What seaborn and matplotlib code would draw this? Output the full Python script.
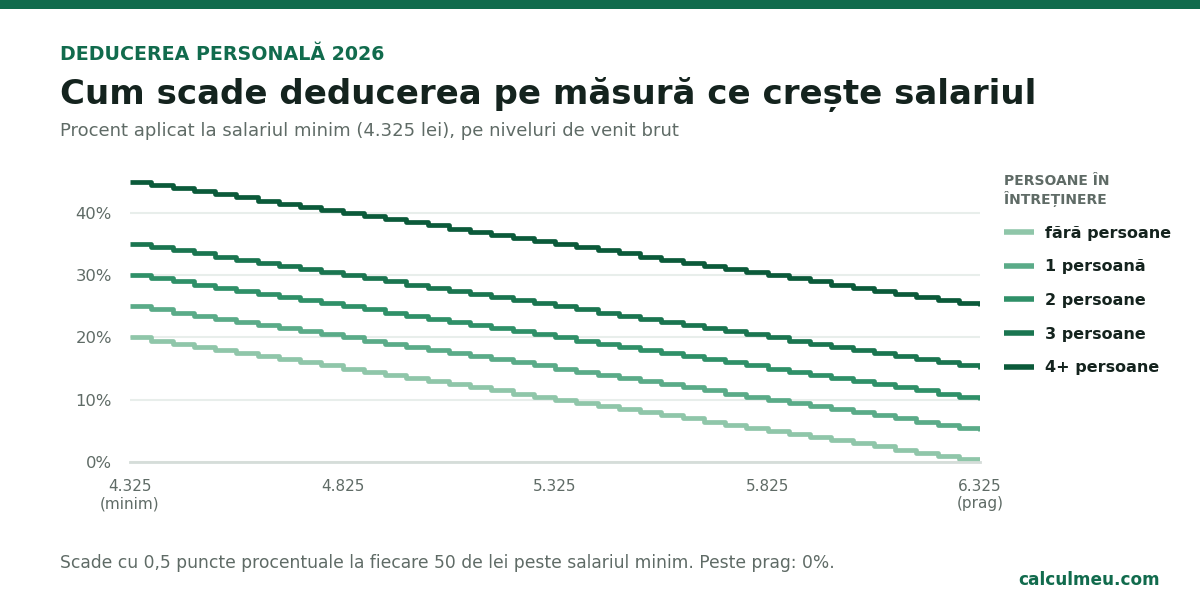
import matplotlib
matplotlib.use("Agg")
import matplotlib.pyplot as plt
from matplotlib.patches import Rectangle
from matplotlib.ticker import FuncFormatter
import seaborn as sns
import pandas as pd

# Data (salariu brut in lei, procent aplicat la salariul minim)
salary = [4325, 4375, 4425, 4475, 4525, 4575, 4625, 4675, 4725, 4775,
          4825, 4875, 4925, 4975, 5025, 5075, 5125, 5175, 5225, 5275,
          5325, 5375, 5425, 5475, 5525, 5575, 5625, 5675, 5725, 5775,
          5825, 5875, 5925, 5975, 6025, 6075, 6125, 6175, 6225, 6275, 6325]

pct_fara = [20.0, 19.5, 19.0, 18.5, 18.0, 17.5, 17.0, 16.5, 16.0, 15.5,
            15.0, 14.5, 14.0, 13.5, 13.0, 12.5, 12.0, 11.5, 11.0, 10.5,
            10.0, 9.5, 9.0, 8.5, 8.0, 7.5, 7.0, 6.5, 6.0, 5.5,
            5.0, 4.5, 4.0, 3.5, 3.0, 2.5, 2.0, 1.5, 1.0, 0.5, 0.0]
pct_1 = [25.0, 24.5, 24.0, 23.5, 23.0, 22.5, 22.0, 21.5, 21.0, 20.5,
         20.0, 19.5, 19.0, 18.5, 18.0, 17.5, 17.0, 16.5, 16.0, 15.5,
         15.0, 14.5, 14.0, 13.5, 13.0, 12.5, 12.0, 11.5, 11.0, 10.5,
         10.0, 9.5, 9.0, 8.5, 8.0, 7.5, 7.0, 6.5, 6.0, 5.5, 5.0]
pct_2 = [30.0, 29.5, 29.0, 28.5, 28.0, 27.5, 27.0, 26.5, 26.0, 25.5,
         25.0, 24.5, 24.0, 23.5, 23.0, 22.5, 22.0, 21.5, 21.0, 20.5,
         20.0, 19.5, 19.0, 18.5, 18.0, 17.5, 17.0, 16.5, 16.0, 15.5,
         15.0, 14.5, 14.0, 13.5, 13.0, 12.5, 12.0, 11.5, 11.0, 10.5, 10.0]
pct_3 = [35.0, 34.5, 34.0, 33.5, 33.0, 32.5, 32.0, 31.5, 31.0, 30.5,
         30.0, 29.5, 29.0, 28.5, 28.0, 27.5, 27.0, 26.5, 26.0, 25.5,
         25.0, 24.5, 24.0, 23.5, 23.0, 22.5, 22.0, 21.5, 21.0, 20.5,
         20.0, 19.5, 19.0, 18.5, 18.0, 17.5, 17.0, 16.5, 16.0, 15.5, 15.0]
pct_4 = [45.0, 44.5, 44.0, 43.5, 43.0, 42.5, 42.0, 41.5, 41.0, 40.5,
         40.0, 39.5, 39.0, 38.5, 38.0, 37.5, 37.0, 36.5, 36.0, 35.5,
         35.0, 34.5, 34.0, 33.5, 33.0, 32.5, 32.0, 31.5, 31.0, 30.5,
         30.0, 29.5, 29.0, 28.5, 28.0, 27.5, 27.0, 26.5, 26.0, 25.5, 25.0]

series_names = ["fără persoane", "1 persoană", "2 persoane", "3 persoane", "4+ persoane"]
series_values = [pct_fara, pct_1, pct_2, pct_3, pct_4]
colors = ["#8fc6a9", "#5aab88", "#2f9068", "#1a7550", "#0b5a3a"]

x_ticks = [4325, 4825, 5325, 5825, 6325]
x_tick_labels = ["4.325\n(minim)", "4.825", "5.325", "5.825", "6.325\n(prag)"]
y_ticks = [0, 10, 20, 30, 40]

rows = []
for name, vals in zip(series_names, series_values):
    for s, v in zip(salary, vals):
        rows.append({"salariu": s, "procent": v, "grup": name})
df = pd.DataFrame(rows)

sns.set_style("white")
plt.rcParams["font.family"] = ["DejaVu Sans"]

GREEN = "#116b4d"
DARK = "#14231e"
GREY = "#5f6b66"

fig = plt.figure(figsize=(12, 6), dpi=100)
fig.patch.set_facecolor("white")
ax = fig.add_axes([130 / 1200, 1 - 462 / 600, 850 / 1200, 292 / 600])

sns.lineplot(data=df, x="salariu", y="procent", hue="grup", hue_order=series_names,
             palette=colors, linewidth=3.4, drawstyle="steps-post", ax=ax,
             legend=True, solid_capstyle="butt")

ax.set_xlim(4325, 6325)
ax.set_ylim(0, 46.9)
ax.set_xticks(x_ticks)
ax.set_xticklabels(x_tick_labels)
ax.set_yticks(y_ticks)
ax.yaxis.set_major_formatter(FuncFormatter(lambda v, p: f"{v:.0f}%"))
ax.set_xlabel("")
ax.set_ylabel("")
ax.grid(axis="y", color="#e8eeeb", linewidth=1.5)
ax.set_axisbelow(True)
for sp in ["top", "right", "left"]:
    ax.spines[sp].set_visible(False)
ax.spines["bottom"].set_color("#d5ddd9")
ax.spines["bottom"].set_linewidth(2)
ax.tick_params(axis="y", length=0, pad=13, labelsize=11.8, labelcolor=GREY)
ax.tick_params(axis="x", length=6, width=1.5, color="#d5ddd9", pad=6,
               labelsize=11, labelcolor=GREY)

handles, labels = ax.get_legend_handles_labels()
leg = ax.legend(handles, labels, loc="upper left", bbox_to_anchor=(990 / 1200, 1 - 160 / 600),
                bbox_transform=fig.transFigure, frameon=False, fontsize=11.5,
                title="PERSOANE ÎN\nÎNTREȚINERE", alignment="left",
                handlelength=1.85, handletextpad=0.7, labelspacing=1.17)
leg.get_title().set_fontsize(10)
leg.get_title().set_fontweight("bold")
leg.get_title().set_color(GREY)
for t in leg.get_texts():
    t.set_fontweight("bold")
    t.set_color(DARK)
for h in leg.legend_handles:
    h.set_linewidth(4)

# header band
fig.patches.append(Rectangle((0, 1 - 9 / 600), 1, 9 / 600, transform=fig.transFigure,
                             facecolor=GREEN, edgecolor="none"))

fig.text(60 / 1200, 1 - 55 / 600, "DEDUCEREA PERSONALĂ 2026", fontsize=13.7,
         fontweight="bold", color=GREEN, va="center", ha="left")
fig.text(60 / 1200, 1 - 94 / 600, "Cum scade deducerea pe măsură ce crește salariul",
         fontsize=24.5, fontweight="bold", color=DARK, va="center", ha="left")
fig.text(60 / 1200, 1 - 131 / 600,
         "Procent aplicat la salariul minim (4.325 lei), pe niveluri de venit brut",
         fontsize=13, color=GREY, va="center", ha="left")
fig.text(60 / 1200, 1 - 563 / 600,
         "Scade cu 0,5 puncte procentuale la fiecare 50 de lei peste salariul minim. Peste prag: 0%.",
         fontsize=12.3, color=GREY, va="center", ha="left")
fig.text(1160 / 1200, 1 - 580 / 600, "calculmeu.com", fontsize=12.2, fontweight="bold",
         color=GREEN, va="center", ha="right")

fig.savefig("out.png", dpi=100, facecolor="white")
